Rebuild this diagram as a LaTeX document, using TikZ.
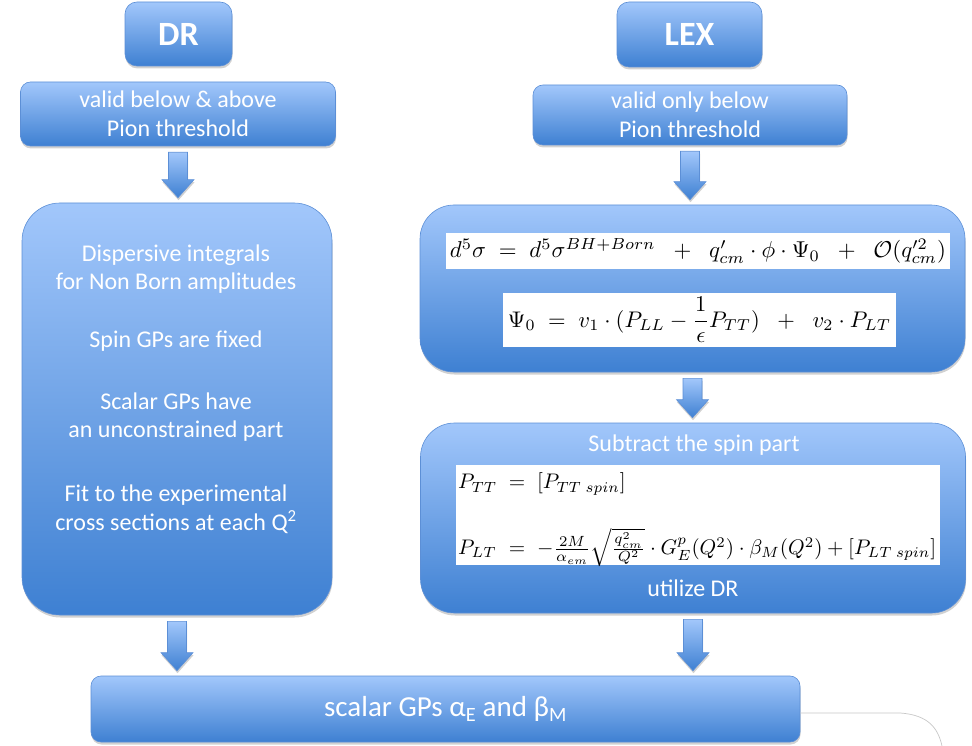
\documentclass[tikz,border=0pt]{standalone}
\usepackage[no-math]{fontspec}
\setmainfont{Carlito}
\usepackage{amsmath}
\usepackage{graphicx}
\usetikzlibrary{calc,shadows}

\definecolor{boxtop}{RGB}{162,199,251}
\definecolor{boxbot}{RGB}{62,128,210}
\definecolor{boxline}{RGB}{92,143,214}

\tikzset{
  softshadow/.style={drop shadow={shadow xshift=0.5pt, shadow yshift=-2.5pt, fill=black, opacity=0.18}},
  flowbox/.style={draw=boxline, line width=0.6pt, top color=boxtop, bottom color=boxbot,
    text=white, align=center, inner sep=0pt, softshadow},
  titlebox/.style={flowbox, rounded corners=12pt, font=\fontsize{34}{38}\selectfont\bfseries},
  notebox/.style={flowbox, rounded corners=10pt, font=\fontsize{24}{28.5}\selectfont},
  bigbox/.style={flowbox, rounded corners=38pt},
  whitetext/.style={text=white, align=center, inner sep=0pt, font=\fontsize{24}{28.5}\selectfont},
  mathbox/.style={fill=white, draw=none, inner sep=0pt},
  arrowbody/.style={draw=boxline, line width=0.6pt, top color=boxtop, bottom color=boxbot, softshadow},
  tailline/.style={draw=black!22, line width=0.7pt}
}

% block arrow pointing down, from below node #1 to above node #2 (x taken from #1)
\newcommand{\flowarrow}[2]{%
  \path[arrowbody] let \p1=($(#1)+(0,-6pt)$), \p2=($(#2)+(0,5pt)$) in
    (\x1-9.5pt,\y1) -- (\x1+9.5pt,\y1) -- (\x1+9.5pt,\y2+18pt) -- (\x1+16pt,\y2+18pt)
    -- (\x1,\y2) -- (\x1-16pt,\y2+18pt) -- (\x1-9.5pt,\y2+18pt) -- cycle;}

\begin{document}
\begin{tikzpicture}[x=1pt,y=-1pt]
  \useasboundingbox (0,0) rectangle (972,746);

  % column headers
  \node[titlebox, minimum width=107pt, minimum height=64pt] (dr) at (178.5,34) {DR};
  \node[titlebox, minimum width=145pt, minimum height=65pt] (lex) at (689.5,34.5) {LEX};

  % validity notes
  \node[notebox, minimum width=315pt, minimum height=64pt] (vbl) at (178,114)
    {valid below \& above\\Pion threshold};
  \node[notebox, minimum width=314pt, minimum height=60pt] (vob) at (690,115)
    {valid only below\\Pion threshold};

  % DR column
  \node[bigbox, minimum width=310pt, minimum height=412pt] (disp) at (177,409) {};
  \node[whitetext] (disptext) at (176,389)
    {Dispersive integrals\\for Non Born amplitudes\\[29pt]
     Spin GPs are fixed\\[33.5pt]
     Scalar GPs have\\an unconstrained part\\[35.5pt]
     Fit to the experimental\\cross sections at each Q\textsuperscript{2}};

  % LEX column: expansion
  \node[bigbox, rounded corners=34pt, minimum width=545pt, minimum height=167pt] (lexf) at (692.5,288.5) {};
  \node[mathbox, minimum width=504pt, minimum height=36pt] (fa) at (698,251)
    {\resizebox{496pt}{!}{$d^5\sigma \;=\; d^5\sigma^{BH+Born} \;\;+\;\; q'_{cm}\cdot\phi\cdot\Psi_0 \;\;+\;\; \mathcal{O}(q'^{2}_{cm})$}};
  \node[mathbox, minimum width=393pt, minimum height=54pt] (fb) at (699.5,320)
    {\resizebox{383pt}{!}{$\displaystyle \Psi_0 \;=\; v_1\cdot(P_{LL}-\frac{1}{\epsilon}P_{TT}) \;\;+\;\; v_2\cdot P_{LT}$}};

  % LEX column: spin subtraction
  \node[bigbox, rounded corners=34pt, minimum width=545pt, minimum height=190pt] (sub) at (693,518) {};
  \node[whitetext] (subtitle) at (694,445) {Subtract the spin part};
  \node[mathbox, minimum width=484pt, minimum height=100pt] (fc) at (698,515) {};
  \node[inner sep=0pt, anchor=west] (fctext) at (458,519)
    {\resizebox{478pt}{!}{$\begin{array}{@{}l@{\;\;=\;\;}l@{}}
      P_{TT} & [P_{TT\ spin}]\\[15pt]
      P_{LT} & -\frac{2M}{\alpha_{em}}\sqrt{\frac{q^2_{cm}}{Q^2}}\cdot G^p_E(Q^2)\cdot\beta_M(Q^2)+[P_{LT\ spin}]
    \end{array}$}};
  \node[whitetext] (utilize) at (693,588) {utilize DR};

  % result
  \node[notebox, minimum width=709pt, minimum height=66pt, font=\fontsize{29}{33}\selectfont] (res) at (445.5,709)
    {scalar GPs α\textsubscript{E} and β\textsubscript{M}};
  \coordinate (tailend) at (942,746);
  \draw[tailline] ($(res.east)+(0,4)$) -- ++(100,0) .. controls +(28,2) and +(-4,-18) .. (tailend);

  % connectors
  \flowarrow{vbl.south}{disp.north}
  \flowarrow{vob.south}{lexf.north}
  \flowarrow{lexf.south}{sub.north}
  \flowarrow{disp.south}{res.north}
  \flowarrow{sub.south}{res.north}
\end{tikzpicture}
\end{document}
